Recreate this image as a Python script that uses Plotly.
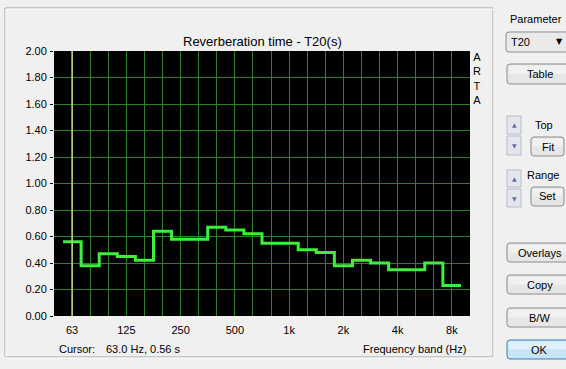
import plotly.graph_objects as go

# ---- data ----
bands = ["63", "80", "100", "125", "160", "200", "250", "315", "400", "500", "630", "800",
         "1k", "1.25k", "1.6k", "2k", "2.5k", "3.15k", "4k", "5k", "6.3k", "8k"]
t20 = [0.56, 0.38, 0.47, 0.45, 0.42, 0.64, 0.58, 0.58, 0.67, 0.65, 0.62, 0.55,
       0.55, 0.50, 0.48, 0.38, 0.42, 0.40, 0.35, 0.35, 0.40, 0.23]
octave_labels = ["63", "125", "250", "500", "1k", "2k", "4k", "8k"]
y_ticks = [0.0, 0.2, 0.4, 0.6, 0.8, 1.0, 1.2, 1.4, 1.6, 1.8, 2.0]

W, H = 566, 369
FONT = "Liberation Sans, Arial, sans-serif"


def px(x):
    return x / W


def py(y):
    return 1 - y / H


idx = list(range(len(bands)))
step_x = [i - 0.5 for i in idx] + [idx[-1] + 0.5]
step_y = t20 + [t20[-1]]

fig = go.Figure()
fig.add_trace(go.Scatter(x=step_x, y=step_y, mode="lines", line_shape="hv",
                         line=dict(color="#3CF03C", width=3), hoverinfo="skip"))

grid = "#2F7F2F"
ticktext = [b if b in octave_labels else "" for b in bands]

shapes = []
annotations = []

# group frame (etched)
shapes.append(dict(type="rect", xref="paper", yref="paper", x0=px(5), x1=px(493), y0=py(357), y1=py(8),
                   line=dict(color="#A0A0A0", width=1), fillcolor="rgba(0,0,0,0)", layer="below"))
shapes.append(dict(type="rect", xref="paper", yref="paper", x0=px(6), x1=px(494), y0=py(358), y1=py(9),
                   line=dict(color="#FFFFFF", width=1), fillcolor="rgba(0,0,0,0)", layer="below"))

# cursor line at first band
shapes.append(dict(type="line", xref="x", yref="paper", x0=0, x1=0, y0=py(316), y1=py(51),
                   line=dict(color="#C8D880", width=1.5)))


def rounded(x0, y0, x1, y1, r=3):
    pts = [
        f"M {px(x0 + r)},{py(y0)}", f"L {px(x1 - r)},{py(y0)}",
        f"Q {px(x1)},{py(y0)} {px(x1)},{py(y0 + r)}", f"L {px(x1)},{py(y1 - r)}",
        f"Q {px(x1)},{py(y1)} {px(x1 - r)},{py(y1)}", f"L {px(x0 + r)},{py(y1)}",
        f"Q {px(x0)},{py(y1)} {px(x0)},{py(y1 - r)}", f"L {px(x0)},{py(y0 + r)}",
        f"Q {px(x0)},{py(y0)} {px(x0 + r)},{py(y0)}", "Z",
    ]
    return " ".join(pts)


def button(x0, y0, x1, y1, label, fill="#E6E6E6", border="#8C8C8C", size=11):
    shapes.append(dict(type="path", xref="paper", yref="paper", path=rounded(x0, y0, x1, y1),
                       line=dict(color=border, width=1), fillcolor=fill))
    shapes.append(dict(type="rect", xref="paper", yref="paper", x0=px(x0 + 1.5), x1=px(x1 - 1.5),
                       y0=py((y0 + y1) / 2), y1=py(y0 + 1.5), line=dict(width=0),
                       fillcolor="rgba(255,255,255,0.45)"))
    annotations.append(dict(xref="paper", yref="paper", x=px((x0 + x1) / 2), y=py((y0 + y1) / 2),
                            text=label, showarrow=False, font=dict(family=FONT, size=size, color="#000000"),
                            xanchor="center", yanchor="middle"))


def spinner(x0, y0, y1, up=True):
    shapes.append(dict(type="rect", xref="paper", yref="paper", x0=px(x0), x1=px(x0 + 14), y0=py(y1), y1=py(y0),
                       line=dict(color="#B8BCC8", width=1), fillcolor="#E4E6EE"))
    annotations.append(dict(xref="paper", yref="paper", x=px(x0 + 7), y=py((y0 + y1) / 2),
                            text="▲" if up else "▼", showarrow=False,
                            font=dict(family="DejaVu Sans", size=6, color="#6070A0"),
                            xanchor="center", yanchor="middle"))


def label(x, y, text, anchor="center", size=11):
    annotations.append(dict(xref="paper", yref="paper", x=px(x), y=py(y), text=text, showarrow=False,
                            font=dict(family=FONT, size=size, color="#000000"),
                            xanchor=anchor, yanchor="middle"))


# right panel
label(536, 19, "Parameter")
shapes.append(dict(type="path", xref="paper", yref="paper", path=rounded(506, 32, 572, 52),
                   line=dict(color="#8C8C8C", width=1), fillcolor="#EAEAEA"))
label(509, 42, "T20", anchor="left")
annotations.append(dict(xref="paper", yref="paper", x=px(559), y=py(42), text="▼", showarrow=False,
                        font=dict(family="DejaVu Sans", size=8, color="#000000"), xanchor="center",
                        yanchor="middle"))
button(507, 64, 572, 84, "Table")
spinner(507, 116, 134, True)
spinner(507, 136, 155, False)
label(544, 125, "Top")
button(531, 137, 564, 156, "Fit")
spinner(507, 170, 187, True)
spinner(507, 189, 207, False)
label(543, 175, "Range")
button(531, 187, 564, 206, "Set")
button(507, 243, 572, 262, "Overlays")
button(507, 275, 572, 294, "Copy")
button(507, 308, 572, 327, "B/W")
button(507, 340, 572, 359, "OK", fill="#C6E6F8", border="#3C7FB1")

# chart texts
label(262, 41, "Reverberation time - T20(s)", size=13)
annotations.append(dict(xref="paper", yref="paper", x=px(477), y=py(78), text="A<br>R<br>T<br>A",
                        showarrow=False, font=dict(family=FONT, size=11, color="#000000"),
                        xanchor="center", yanchor="middle", align="center"))
label(57, 349, "Cursor:", anchor="left")
label(104, 349, "63.0 Hz, 0.56 s", anchor="left")
label(468, 349, "Frequency band (Hz)", anchor="right")

fig.update_layout(
    width=W, height=H,
    autosize=False,
    margin=dict(l=0, r=0, t=0, b=0, pad=0, autoexpand=False),
    paper_bgcolor="#F0F0F0", plot_bgcolor="#000000",
    showlegend=False,
    font=dict(family=FONT, size=11, color="#000000"),
    xaxis=dict(domain=[px(54), px(470)], range=[-1, len(bands)], tickmode="array", tickvals=idx,
               ticktext=ticktext, showgrid=True, gridcolor=grid, gridwidth=1, zeroline=False,
               showline=False, ticks="", ticklabelstandoff=6, fixedrange=True, automargin=False,
               tickfont=dict(family=FONT, size=11, color="#000000")),
    yaxis=dict(domain=[py(316), py(51)], range=[0, 2], tickmode="array", tickvals=y_ticks,
               tickformat=".2f", showgrid=True, gridcolor=grid, gridwidth=1, zeroline=False,
               showline=False, ticks="outside", ticklen=3, tickcolor="#000000", ticklabelstandoff=1,
               fixedrange=True, automargin=False, tickfont=dict(family=FONT, size=11, color="#000000")),
    shapes=shapes,
    annotations=annotations,
)

fig.write_html("out.html", config={"displayModeBar": False},
               post_script="document.body.style.margin='0';document.body.style.overflow='hidden';")
